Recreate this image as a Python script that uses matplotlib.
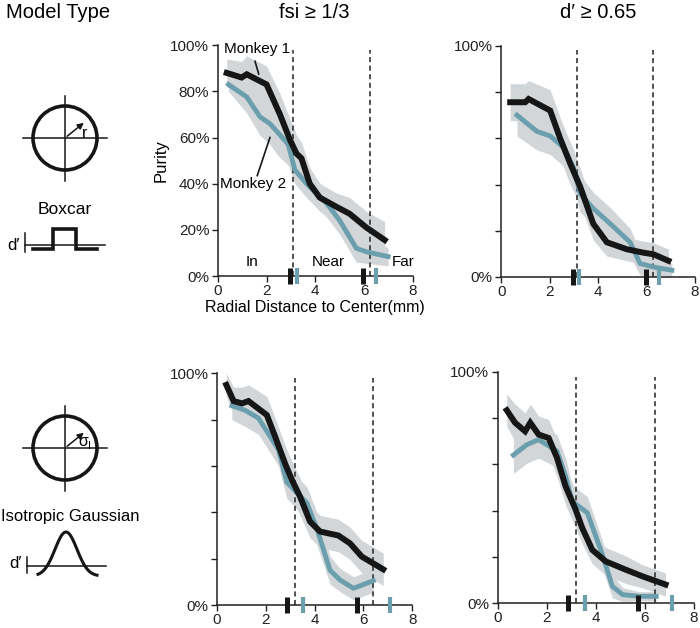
import matplotlib
matplotlib.use("Agg")
import matplotlib.pyplot as plt
from matplotlib.patches import Circle, FancyArrowPatch
import numpy as np

plt.rcParams['font.family'] = ['Liberation Sans', 'DejaVu Sans']

# ---------------- data ----------------
# fsi >= 1/3, Boxcar
TL_m1_x = [0.37, 0.98, 1.19, 2.0, 2.55, 2.96, 3.23, 3.43, 3.77, 4.18, 4.86, 5.4, 6.09, 6.84]
TL_m1_y = [88, 86, 87.4, 83, 70, 59, 53, 51, 40, 34, 30, 27, 21, 15.6]
TL_m1_e = [6, 7, 8, 8, 9, 9, 8, 7, 7, 6, 6, 7, 7, 8]
TL_m2_x = [0.44, 1.19, 1.73, 2.14, 2.48, 2.89, 3.16, 3.64, 4.46, 5.0, 5.68, 6.09, 6.98]
TL_m2_y = [83, 77.6, 69, 66, 62, 57, 46, 40, 31.5, 24, 12, 10.5, 8.4]
TL_m2_e = [3, 7, 8, 9, 10, 9, 6, 6, 6, 6, 6, 5, 4]
# d' >= 0.65, Boxcar
TR_m1_x = [0.37, 0.99, 1.13, 2.02, 2.43, 2.85, 3.26, 3.8, 4.36, 5.18, 5.87, 6.28, 6.9]
TR_m1_y = [75.6, 75.6, 77, 72, 60, 49, 39, 23, 15, 12, 10.5, 9.8, 7]
TR_m1_e = [8, 8, 8, 9, 9, 9, 8, 7, 6, 5, 5, 5, 5]
TR_m2_x = [0.65, 1.47, 2.02, 2.57, 2.98, 3.26, 3.8, 4.5, 5.32, 5.73, 6.28, 7.04]
TR_m2_y = [70, 63, 61, 56, 47.4, 36, 29.6, 23, 15, 5.8, 4.3, 2.9]
TR_m2_e = [9, 8, 8, 8, 8, 8, 7, 7, 6, 5, 4, 3]
# fsi >= 1/3, Isotropic Gaussian
BL_m1_x = [0.38, 0.68, 1.02, 1.29, 2.04, 2.38, 2.79, 3.07, 3.4, 3.81, 4.22, 4.97, 5.45, 5.93, 6.81]
BL_m1_y = [95, 88, 87, 88, 82, 72.7, 61, 54, 46.8, 36, 31.7, 30, 26.6, 20.9, 15.4]
BL_m1_e = [5, 6, 7, 7, 8, 8, 8, 8, 8, 7, 7, 7, 7, 7, 7]
BL_m2_x = [0.61, 1.16, 1.7, 2.18, 2.52, 2.86, 3.13, 3.68, 4.09, 4.63, 5.04, 5.59, 6.4]
BL_m2_y = [86, 84, 80.6, 72.7, 67, 53, 50, 44, 33, 15, 10.8, 7.2, 10.5]
BL_m2_e = [6, 7, 7, 7, 7, 7, 7, 7, 7, 6, 5, 5, 5]
# d' >= 0.65, Isotropic Gaussian
BR_m1_x = [0.37, 0.71, 1.12, 1.33, 1.67, 2.08, 2.42, 2.77, 3.18, 3.45, 3.86, 4.41, 5.23, 5.92, 6.85]
BR_m1_y = [83.4, 78, 74.3, 78, 72.9, 71.4, 62.8, 50.5, 40.4, 32.5, 23, 18, 14.4, 11.5, 8]
BR_m1_e = [7, 8, 8, 8, 8, 8, 8, 8, 8, 7, 6, 6, 6, 5, 5]
BR_m2_x = [0.64, 1.19, 1.67, 2.42, 2.77, 3.04, 3.66, 4.27, 4.68, 5.1, 5.78, 6.47]
BR_m2_y = [64, 68.5, 70.7, 65.7, 54.8, 44, 39, 21, 7.2, 3.6, 2.9, 2.9]
BR_m2_e = [8, 8, 8, 7, 8, 7, 7, 6, 5, 3, 2, 2]

# boundaries (dashed) and per-monkey boundary marks
TL_dash = [3.1, 6.22]; TL_mk1 = [2.97, 5.95]; TL_mk2 = [3.23, 6.5]
TR_dash = [3.12, 6.25]; TR_mk1 = [2.98, 5.98]; TR_mk2 = [3.23, 6.5]
BL_dash = [3.2, 6.4]; BL_mk1 = [2.86, 5.72]; BL_mk2 = [3.54, 7.08]
BR_dash = [3.2, 6.44]; BR_mk1 = [2.88, 5.73]; BR_mk2 = [3.56, 7.12]

x_ticks = [0, 2, 4, 6, 8]
y_ticks = [0, 20, 40, 60, 80, 100]
y_labels_full = ['0%', '20%', '40%', '60%', '80%', '100%']
y_labels_sparse = ['0%', '', '', '', '', '100%']

BLACK = '#161616'
BLUE = '#6b9fae'
BAND = '#d2d6d8'
TICK_FS = 11

fig = plt.figure(figsize=(7.0, 6.28), dpi=100)

# overlay for icons / headers (pixel coords)
ov = fig.add_axes([0, 0, 1, 1])
ov.set_xlim(0, 700)
ov.set_ylim(628, 0)
ov.axis('off')

def panel(rect, m1x, m1y, m1e, m2x, m2y, m2e, dash, mk1, mk2, full_labels):
    ax = fig.add_axes(rect)
    for x, y, e in [(m1x, m1y, m1e), (m2x, m2y, m2e)]:
        x = np.array(x); y = np.array(y); e = np.array(e)
        ax.fill_between(x, y - e, y + e, color=BAND, lw=0, zorder=1, clip_on=False)
    for d in dash:
        ax.plot([d, d], [0, 98], ls=(0, (3.3, 2.3)), color='#222222', lw=1.1, zorder=2)
    ax.plot(m1x, m1y, color=BLACK, lw=4.3, solid_joinstyle='miter', zorder=4)
    ax.plot(m2x, m2y, color=BLUE, lw=3.5, zorder=3)
    for v in mk1:
        ax.plot([v, v], [-3.3, 3.3], color=BLACK, lw=3.6, solid_capstyle='butt', clip_on=False, zorder=5)
    for v in mk2:
        ax.plot([v, v], [-3.3, 3.3], color=BLUE, lw=3.0, solid_capstyle='butt', clip_on=False, zorder=5)
    ax.set_xlim(0, 8)
    ax.set_ylim(0, 100)
    ax.set_xticks(x_ticks)
    ax.set_yticks(y_ticks)
    ax.set_yticklabels(y_labels_full if full_labels else y_labels_sparse)
    for s in ['top', 'right']:
        ax.spines[s].set_visible(False)
    for s in ['left', 'bottom']:
        ax.spines[s].set_linewidth(1.1)
        ax.spines[s].set_color('#222222')
    ax.tick_params(direction='out', length=4, width=1.0, labelsize=TICK_FS, pad=2, colors='#222222')
    ax.patch.set_alpha(0)
    return ax

ax1 = panel([0.311, 0.5605, 0.279, 0.3675], TL_m1_x, TL_m1_y, TL_m1_e, TL_m2_x, TL_m2_y, TL_m2_e,
            TL_dash, TL_mk1, TL_mk2, True)
ax2 = panel([0.716, 0.559, 0.277, 0.368], TR_m1_x, TR_m1_y, TR_m1_e, TR_m2_x, TR_m2_y, TR_m2_e,
            TR_dash, TR_mk1, TR_mk2, False)
ax3 = panel([0.310, 0.0366, 0.279, 0.369], BL_m1_x, BL_m1_y, BL_m1_e, BL_m2_x, BL_m2_y, BL_m2_e,
            BL_dash, BL_mk1, BL_mk2, False)
ax4 = panel([0.711, 0.0398, 0.280, 0.368], BR_m1_x, BR_m1_y, BR_m1_e, BR_m2_x, BR_m2_y, BR_m2_e,
            BR_dash, BR_mk1, BR_mk2, False)

ax1.set_ylabel('Purity', fontsize=12, labelpad=1)
ax1.set_xlabel('Radial Distance to Center(mm)', fontsize=11.5, labelpad=1)

# region labels
ax1.text(1.4, 6.2, 'In', fontsize=11, ha='center', va='center')
ax1.text(4.52, 6.2, 'Near', fontsize=11, ha='center', va='center')
ax1.text(7.6, 6.2, 'Far', fontsize=11, ha='center', va='center', clip_on=False)
# monkey labels
ax1.text(1.6, 98.5, 'Monkey 1', fontsize=11, ha='center', va='center', zorder=6)
ax1.plot([1.53, 1.68], [93, 87.5], color=BLACK, lw=1.2, zorder=6)
ax1.text(1.46, 40, 'Monkey 2', fontsize=11, ha='center', va='center', zorder=6)
ax1.plot([1.62, 2.14], [43.5, 60], color=BLACK, lw=1.2, zorder=6)

# headers
ov.text(58, 13, 'Model Type', fontsize=14.5, ha='center', va='center')
ov.text(314, 13, 'fsi ≥ 1/3', fontsize=14.5, ha='center', va='center')
ov.text(598, 13, 'd′ ≥ 0.65', fontsize=14.5, ha='center', va='center')

# ---- icons ----
def circle_icon(cy):
    cx = 65
    ov.add_patch(Circle((cx, cy), 32, fill=False, lw=2.6, color=BLACK))
    ov.plot([23, 107], [cy, cy], color=BLACK, lw=1.1)
    ov.plot([cx, cx], [cy - 42, cy + 43], color=BLACK, lw=1.1)
    ov.add_patch(FancyArrowPatch((cx, cy), (cx + 21, cy - 17), arrowstyle='-|>', mutation_scale=9,
                                 lw=1.1, color=BLACK))

circle_icon(138)
ov.text(82, 133, 'r', fontsize=11.5, ha='left', va='center')
ov.text(65, 210, 'Boxcar', fontsize=12.5, ha='center', va='center')
ov.text(13, 245, 'd′', fontsize=12, ha='center', va='center')
ov.plot([25, 25], [233, 252], color=BLACK, lw=1.1)
ov.plot([25, 105], [245, 245], color=BLACK, lw=1.1)
ov.plot([33, 53, 53, 76, 76, 97], [249, 249, 229, 229, 249, 249], color=BLACK, lw=2.6,
        solid_joinstyle='miter')

circle_icon(448)
ov.text(78, 442, 'σ', fontsize=11.5, ha='left', va='center')
ov.text(88, 446, 'I', fontsize=8, ha='left', va='center')
ov.text(1, 516, 'Isotropic Gaussian', fontsize=12, ha='left', va='center')
ov.text(15, 563, 'd′', fontsize=12, ha='center', va='center')
ov.plot([27, 27], [557, 573], color=BLACK, lw=1.1)
ov.plot([27, 106], [566, 566], color=BLACK, lw=1.1)
gx = np.linspace(38, 97, 80)
gy = 576 - 44 * np.exp(-((gx - 66) ** 2) / (2 * 11 ** 2))
ov.plot(gx, gy, color=BLACK, lw=2.2)

fig.savefig('out.png', dpi=100)
